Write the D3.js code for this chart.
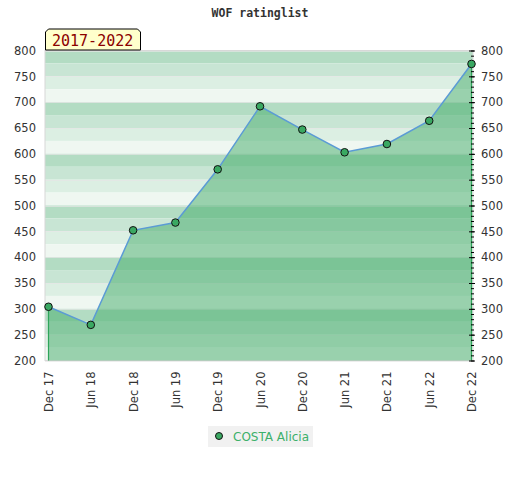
<!DOCTYPE html>
<html>
<head>
<meta charset="utf-8">
<script src="https://cdn.jsdelivr.net/npm/d3@7"></script>
<style>
  body { margin: 0; background: #fff; }
  .tick text { font-family: "DejaVu Sans", sans-serif; font-size: 11.5px; fill: #333; }
</style>
</head>
<body>
<script>
    const chart_width = 520;
    const chart_height = 480;

    // data
    const periods = ['Dec 17', 'Jun 18', 'Dec 18', 'Jun 19', 'Dec 19', 'Jun 20', 'Dec 20', 'Jun 21', 'Dec 21', 'Jun 22', 'Dec 22'];
    const ratings = [304, 269, 452, 467, 570, 692, 647, 603, 619, 664, 774];
    const yTicks = [200, 250, 300, 350, 400, 450, 500, 550, 600, 650, 700, 750, 800];
    const player = 'COSTA Alicia';
    const rangeLabel = '2017-2022';

    const plot = {left: 45, right: 473, top: 50.5, bottom: 360.5};

    const svg = d3.select('body').append('svg').attr('width', chart_width).attr('height', chart_height);

    const x = d3.scalePoint().domain(periods).range([48.5, 471.5]);
    const y = d3.scaleLinear().domain([200, 800]).range([plot.bottom, plot.top]);

    // striped background, 4 shades per 100 points
    const bandColors = ['#b3dcc3', '#c8e5d4', '#dcefe3', '#eff7f1'];
    svg.append('g').selectAll('rect')
        .data(d3.range(800, 200, -25))
        .enter()
        .append('rect')
          .attr('x', plot.left)
          .attr('width', plot.right - plot.left)
          .attr('y', d => y(d))
          .attr('height', d => y(d - 25) - y(d))
          .attr('fill', (d, i) => bandColors[i % 4]);

    svg.append('g').selectAll('line')
        .data(yTicks)
        .enter()
        .append('line')
          .attr('x1', plot.left).attr('x2', plot.right)
          .attr('y1', d => Math.round(y(d)) + 0.5).attr('y2', d => Math.round(y(d)) + 0.5)
          .attr('stroke', '#e6e6e6')
          .attr('stroke-opacity', 0.7);

    // frame
    svg.append('rect')
        .attr('x', plot.left).attr('y', plot.top)
        .attr('width', plot.right - plot.left).attr('height', plot.bottom - plot.top)
        .attr('fill', 'none').attr('stroke', '#d8d8d8');

    const pts = periods.map((p, i) => [p, ratings[i]]);

    const area = d3.area().x(d => x(d[0])).y0(y(200)).y1(d => y(d[1]));
    svg.append('path')
        .attr('d', area(pts))
        .attr('fill', '#43ab69')
        .attr('fill-opacity', 0.5);

    // green edges of the area
    svg.append('g').selectAll('line')
        .data([pts[0], pts[pts.length - 1]])
        .enter()
        .append('line')
          .attr('x1', d => x(d[0])).attr('x2', d => x(d[0]))
          .attr('y1', d => y(d[1])).attr('y2', y(200))
          .attr('stroke', '#2ea55a').attr('stroke-width', 1.2);

    const line = d3.line().x(d => x(d[0])).y(d => y(d[1]));
    svg.append('path')
        .attr('d', line(pts))
        .attr('fill', 'none')
        .attr('stroke', '#5b9bd5')
        .attr('stroke-width', 1.5);

    // right axis: minor ticks every 10, major every 50
    svg.append('g')
        .attr('transform', 'translate(471,0)')
        .call(d3.axisRight(y).tickValues(d3.range(200, 801, 10)).tickSize(3).tickFormat(''))
        .call(g => g.select('.domain').remove());
    svg.append('g')
        .attr('transform', 'translate(469,0)')
        .call(d3.axisRight(y).tickValues(yTicks).tickSize(6).tickPadding(6))
        .call(g => g.select('.domain').remove());

    svg.append('g')
        .attr('transform', `translate(${plot.left},0)`)
        .call(d3.axisLeft(y).tickValues(yTicks).tickSize(0).tickPadding(9))
        .call(g => g.select('.domain').remove());

    svg.append('g')
        .attr('transform', `translate(0,${plot.bottom})`)
        .call(d3.axisBottom(x).tickSize(0).tickPadding(0))
        .call(g => g.select('.domain').remove())
        .selectAll('text')
          .attr('transform', 'rotate(-90)')
          .attr('text-anchor', 'end')
          .attr('x', -11)
          .attr('y', 0)
          .attr('dy', '0.35em');

    svg.append('g').selectAll('circle')
        .data(pts)
        .enter()
        .append('circle')
          .attr('cx', d => x(d[0]))
          .attr('cy', d => y(d[1]))
          .attr('r', 3.8)
          .attr('fill', '#3aa862')
          .attr('stroke', '#111')
          .attr('stroke-width', 1);

    // title
    svg.append('text')
        .attr('x', 260).attr('y', 17)
        .attr('text-anchor', 'middle')
        .attr('font-family', '"DejaVu Sans Mono", monospace')
        .attr('font-weight', 'bold')
        .attr('font-size', 11.5)
        .attr('fill', '#333')
        .text('WOF ratinglist');

    // period tag
    svg.append('path')
        .attr('d', 'M45.5,50 L45.5,32 L48.5,29 L137.5,29 L140.5,32 L140.5,50 Z')
        .attr('fill', '#ffffcc')
        .attr('stroke', '#000');
    svg.append('text')
        .attr('x', 52).attr('y', 46)
        .attr('font-family', '"DejaVu Sans Mono", monospace')
        .attr('font-size', 15)
        .attr('fill', '#8b0000')
        .text(rangeLabel);

    // legend
    const legend = svg.append('g').attr('transform', 'translate(208,426)');
    legend.append('rect').attr('width', 105).attr('height', 21).attr('fill', '#f1f1f1');
    legend.append('circle').attr('cx', 11).attr('cy', 10).attr('r', 3.5)
        .attr('fill', '#3aa862').attr('stroke', '#111');
    legend.append('text')
        .attr('x', 25).attr('y', 14.5)
        .attr('font-family', '"DejaVu Sans", sans-serif')
        .attr('font-size', 12)
        .attr('fill', '#3cb06a')
        .text(player);
</script>
</body>
</html>
